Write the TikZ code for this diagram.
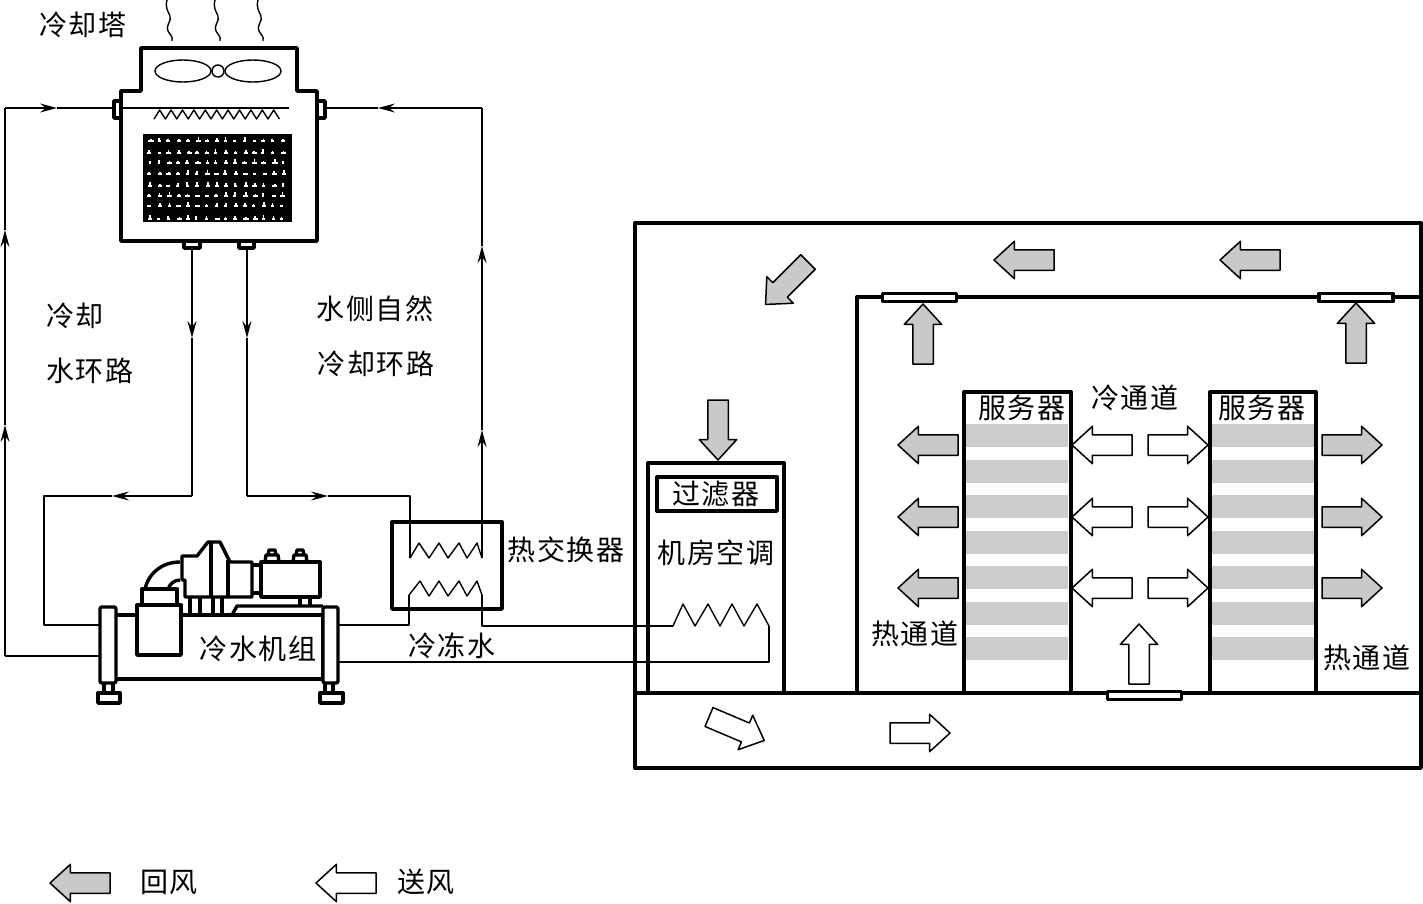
\documentclass[tikz,border=0pt]{standalone}
\usepackage{fontspec}
\setmainfont{Noto Sans CJK SC}[LetterSpace=6]
\usetikzlibrary{shapes.arrows, arrows.meta}
\definecolor{airgray}{gray}{0.79}
\definecolor{rackgray}{gray}{0.80}

\begin{document}
\begin{tikzpicture}[x=1pt, y=-1pt, line join=round,
	thickline/.style={line width=3.4pt},
	pipe/.style={line width=1.4pt},
	flow/.style={pipe, -{Stealth[length=17pt, width=9pt, inset=6pt]}},
	airarrow/.style={single arrow, draw, anchor=tail, line width=1.5pt, inner xsep=0pt, inner ysep=9.5pt, outer sep=0pt, minimum height=60pt, minimum width=37pt, single arrow head extend=8.5pt, single arrow tip angle=85},
	backair/.style={airarrow, fill=airgray},
	sendair/.style={airarrow, fill=white},
	vent/.style={draw, fill=white, line width=3.4pt, inner sep=0pt, minimum width=74pt, minimum height=8pt},
	wordtag/.style={inner sep=0pt, font=\fontsize{28}{30}\selectfont}]
	\useasboundingbox (0,0) rectangle (1423,903);

	% water pipe corners
	\coordinate (towerL) at (121,108);
	\coordinate (towerR) at (325,108);
	\coordinate (outA) at (192,248);
	\coordinate (outB) at (247,248);
	\coordinate (leftTop) at (5,108);
	\coordinate (leftBot) at (5,656);
	\coordinate (chillL1) at (100,625);
	\coordinate (chillL2) at (100,656);
	\coordinate (chillR1) at (337,625);
	\coordinate (chillR2) at (337,662);
	\coordinate (bendA) at (192,496);
	\coordinate (bendA2) at (44,496);
	\coordinate (bendA3) at (44,625);
	\coordinate (bendB) at (247,496);
	\coordinate (bendB2) at (410,496);
	\coordinate (hxUpL) at (410,558);
	\coordinate (hxUpR) at (482,558);
	\coordinate (rightTop) at (482,108);
	\coordinate (hxLowL) at (409,595);
	\coordinate (hxLowR) at (482,595);
	\coordinate (coilL) at (673,626);
	\coordinate (coilR) at (769,626);
	% where the flow heads sit
	\coordinate (tipA) at (5,425);
	\coordinate (tipB) at (5,230);
	\coordinate (tipC) at (57,108);
	\coordinate (tipD) at (192,338);
	\coordinate (tipE) at (112,496);
	\coordinate (tipF) at (247,338);
	\coordinate (tipG) at (328,496);
	\coordinate (tipH) at (482,430);
	\coordinate (tipI) at (482,246);
	\coordinate (tipJ) at (378,108);

	\draw[flow] (leftBot) -- (tipA);
	\draw[flow] (tipA) -- (tipB);
	\draw[pipe] (tipB) -- (leftTop);
	\draw[flow] (leftTop) -- (tipC);
	\draw[pipe] (tipC) -- (289,108);
	\draw[pipe] (leftBot) -- (chillL2);
	\draw[flow] (outA) -- (tipD);
	\draw[pipe] (tipD) -- (bendA);
	\draw[flow] (bendA) -- (tipE);
	\draw[pipe] (tipE) -- (bendA2) -- (bendA3) -- (chillL1);
	\draw[flow] (outB) -- (tipF);
	\draw[pipe] (tipF) -- (bendB);
	\draw[flow] (bendB) -- (tipG);
	\draw[pipe] (tipG) -- (bendB2) -- (hxUpL);
	\draw[pipe] (hxUpL) -- (419,543) -- (429,558) -- (439,543) -- (448,558) -- (459,543) -- (467,558) -- (477,543) -- (hxUpR);
	\draw[flow] (hxUpR) -- (tipH);
	\draw[flow] (tipH) -- (tipI);
	\draw[pipe] (tipI) -- (rightTop);
	\draw[flow] (rightTop) -- (tipJ);
	\draw[pipe] (tipJ) -- (towerR);
	\draw[pipe] (chillR1) -- (409,625) -- (hxLowL);
	\draw[pipe] (hxLowL) -- (420,581) -- (429,596) -- (439,581) -- (448,596) -- (459,581) -- (467,596) -- (477,581) -- (hxLowR);
	\draw[pipe] (hxLowR) -- (482,626) -- (coilL);
	\draw[pipe] (coilL) -- (683,604) -- (695,626) -- (708,604) -- (720,626) -- (732,604) -- (744,626) -- (757,604) -- (coilR);
	\draw[pipe] (coilR) -- (769,662) -- (chillR2);

	% cooling tower
	\draw[thickline, fill=white] (114,101) rectangle (121,118);
	\draw[thickline, fill=white] (317,101) rectangle (325,118);
	\draw[thickline, fill=white] (184,241) rectangle (200,248);
	\draw[thickline, fill=white] (239,241) rectangle (254,248);
	\draw[thickline] (141,91) -- (141,48) -- (297,48) -- (297,91) -- (317,91) -- (317,241) -- (121,241) -- (121,91) -- cycle;
	\draw[pipe] (121,108) -- (289,108);
	\draw[pipe] (183,71) ellipse (28 and 11);
	\draw[pipe] (253,71) ellipse (28 and 11);
	\draw[pipe, fill=white] (218,71) circle (6);
	\draw[pipe] (154,119) \foreach \i in {0,...,10} {-- ({159.7+11.4*\i},110) -- ({165.4+11.4*\i},119)};
	\fill[black] (143,134) rectangle (292,222);
	\pgfmathsetseed{11}
	\foreach \row in {138,150,160,171,183,193,203,216}
		\foreach \col in {147,156.5,...,288} {
			\pgfmathsetmacro{\jx}{\col+2*rnd}
			\pgfmathsetmacro{\wd}{2.5+3*rnd}
			\pgfmathsetmacro{\ht}{1+3.5*rnd}
			\fill[white] (\jx,\row+2) rectangle ({\jx+\wd},{\row+3.5});
			\fill[white] ({\jx+0.5*\wd-0.8},{\row+3}) rectangle ({\jx+0.5*\wd+0.8},{\row+3-\ht});
		}
	\foreach \wx in {167,215,258}
		\draw[pipe] (\wx,0) .. controls (\wx-2,8) and (\wx+1,11) .. (\wx+3,16) .. controls (\wx+5,21) and (\wx-2,26) .. (\wx+1,31) .. controls (\wx+3,35) and (\wx+6,36) .. (\wx+5,41);

	% chiller unit
	\draw[thickline, fill=white] (115,615) rectangle (323,679);
	\draw[thickline, rounded corners=2pt, fill=white] (100,607) rectangle (116,683);
	\draw[thickline, rounded corners=2pt, fill=white] (323,607) rectangle (338,683);
	\draw[thickline] (104,683) -- (104,693) (113,683) -- (113,693);
	\draw[thickline] (325,683) -- (325,693) (333,683) -- (333,693);
	\draw[thickline, fill=white] (98,693) rectangle (120,703);
	\draw[thickline, fill=white] (320,693) rectangle (343,703);
	\draw[thickline, fill=white] (137,605) rectangle (181,655);
	\draw[thickline] (142,605) -- (142,589) -- (177,589) -- (177,605);
	\draw[thickline] (145,589) .. controls (149,572) and (163,562) .. (180,562);
	\draw[thickline] (168,589) .. controls (170,584) and (174,580) .. (180,580);
	\draw[thickline] (182,556) -- (197,556) -- (208,542) -- (220,542) -- (230,562) -- (252,562) -- (252,597) -- (185,597) -- (185,580) -- (182,580) -- cycle;
	\draw[thickline] (211,542) -- (211,597) (228,560) -- (228,597);
	\foreach \lx in {190,200,213,222}
		\draw[thickline] (\lx,597) -- (\lx,615);
	\draw[thickline] (252,565) -- (261,565) (252,593) -- (261,593);
	\draw[thickline] (261,562) rectangle (320,597);
	\foreach \tx in {272,300} {
		\draw[thickline] (\tx-7,562) -- (\tx-6,555) -- (\tx+6,555) -- (\tx+7,562);
		\draw[thickline] (\tx-4,555) -- (\tx-3,550) -- (\tx+3,550) -- (\tx+4,555);
	}
	\draw[thickline] (300,597) -- (300,607) (310,597) -- (310,607);
	\draw[thickline] (232,615) -- (237,606) -- (323,606);

	% heat exchanger, room and air handling unit
	\draw[thickline] (392,522) rectangle (502,609);
	\draw[thickline] (635,223) rectangle (1421,768);
	\draw[thickline] (635,693) -- (1421,693);
	\draw[thickline] (648,693) -- (648,463) -- (784,463) -- (784,693);
	\draw[thickline] (657,477) rectangle (777,511);
	\draw[thickline] (857,693) -- (857,297) -- (1421,297);

	% server racks
	\foreach \rx in {966,1212}
		\foreach \sy in {0,...,6}
			\fill[rackgray] (\rx,{424+35.5*\sy}) rectangle (\rx+102,{447+35.5*\sy});
	\draw[thickline] (964,693) -- (964,392) -- (1071,392) -- (1071,693);
	\draw[thickline] (1210,693) -- (1210,392) -- (1316,392) -- (1316,693);

	\node[vent] (ventA) at (919.5,297.5) {};
	\node[vent] (ventB) at (1356,297.5) {};
	\node[vent] (ventC) at (1144.5,695.5) {};

	% return air
	\foreach \ay/\an in {445/a,517/b,588/c} {
		\node[backair, rotate=180] (hotL\an) at (958,\ay) {};
		\node[backair] (hotR\an) at (1322,\ay) {};
	}
	\node[backair, rotate=90] (riseA) at (923,364) {};
	\node[backair, rotate=90] (riseB) at (1356,363) {};
	\node[backair, rotate=180] (topA) at (1280,260) {};
	\node[backair, rotate=180] (topB) at (1054,260) {};
	\node[backair, rotate=225] (slant) at (808,262) {};
	\node[backair, rotate=270] (filterIn) at (718,400) {};
	\node[backair, rotate=180] (keyBack) at (110,883) {};

	% supply air
	\foreach \ay/\an in {445/a,517/b,588/c} {
		\node[sendair, rotate=180] (coldL\an) at (1132,\ay) {};
		\node[sendair] (coldR\an) at (1148,\ay) {};
	}
	\node[sendair, rotate=90] (riseC) at (1139,684) {};
	\node[sendair, rotate=-23] (floorA) at (709,717) {};
	\node[sendair] (floorB) at (890,733) {};
	\node[sendair, rotate=180] (keySend) at (376,883) {};

	\node[wordtag] (tower) at (83,25) {冷却塔};
	\node[wordtag] (loopA) at (75,316) {冷却};
	\node[wordtag] (loopB) at (90,371) {水环路};
	\node[wordtag] (loopC) at (375,309) {水侧自然};
	\node[wordtag] (loopD) at (376,364) {冷却环路};
	\node[wordtag] (chiller) at (258,649) {冷水机组};
	\node[wordtag] (hx) at (566,550) {热交换器};
	\node[wordtag] (chilled) at (452,646) {冷冻水};
	\node[wordtag] (filter) at (716,494) {过滤器};
	\node[wordtag] (crac) at (716,553) {机房空调};
	\node[wordtag] (rackA) at (1022,408) {服务器};
	\node[wordtag] (rackB) at (1262,408) {服务器};
	\node[wordtag] (coldway) at (1135,398) {冷通道};
	\node[wordtag] (hotA) at (915,634) {热通道};
	\node[wordtag] (hotB) at (1367,658) {热通道};
	\node[wordtag] (keyA) at (169,882) {回风};
	\node[wordtag] (keyB) at (426,882) {送风};
\end{tikzpicture}
\end{document}
